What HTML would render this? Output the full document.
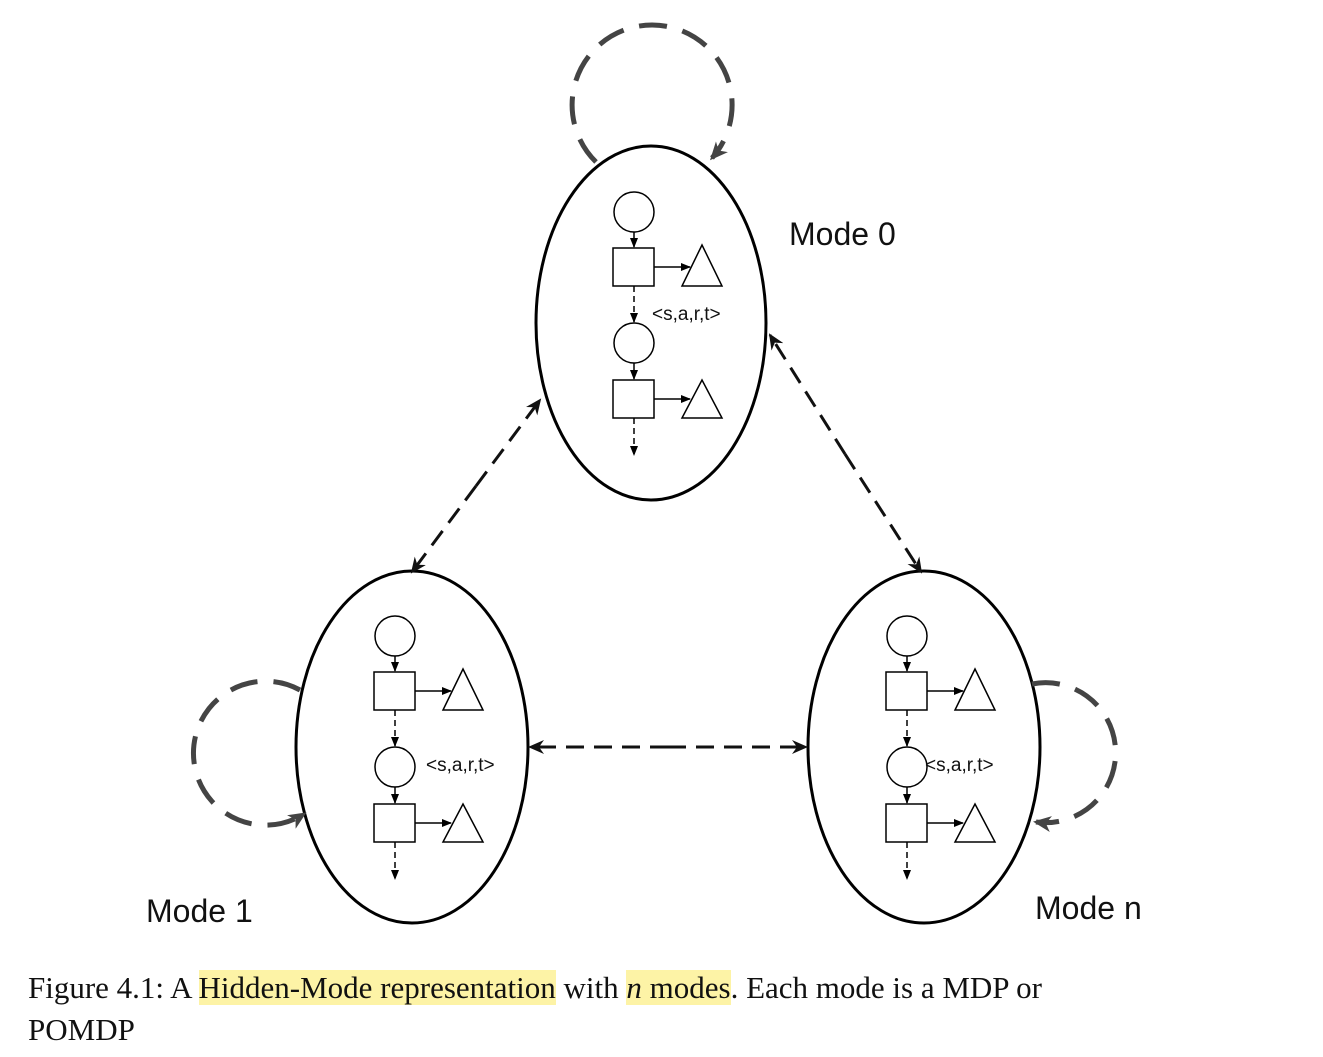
<!DOCTYPE html>
<html><head><style>
body{margin:0;background:#fff;width:1323px;height:1057px;overflow:hidden;position:relative}
.cap{position:absolute;left:28px;font-family:"Liberation Serif",serif;font-size:31px;color:#111;white-space:nowrap}
.hl{background:#fdf3a6}
</style></head><body>
<svg width="1323" height="960" style="position:absolute;left:0;top:0" font-family="Liberation Sans, sans-serif">
<defs>
<marker id="a" markerWidth="10" markerHeight="8" refX="9" refY="4" orient="auto" markerUnits="userSpaceOnUse"><path d="M0,0L10,4L0,8z" fill="#000"/></marker>
<marker id="b" markerWidth="16" markerHeight="14" refX="14" refY="7" orient="auto" markerUnits="userSpaceOnUse"><path d="M0,0L16,7L0,14L5,7z" fill="#111"/></marker>
<marker id="g" markerWidth="18" markerHeight="16" refX="15" refY="8" orient="auto" markerUnits="userSpaceOnUse"><path d="M0,0L18,8L0,16L5,8z" fill="#444"/></marker>
<g id="inner" fill="none" stroke="#000" stroke-width="1.5">
<circle cx="-17" cy="-111" r="20"/>
<rect x="-38" y="-75" width="41" height="38"/>
<path d="M51,-78L71,-37L31,-37z"/>
<line x1="-17" y1="-91" x2="-17" y2="-76" marker-end="url(#a)"/>
<line x1="3" y1="-56" x2="39" y2="-56" marker-end="url(#a)"/>
<line x1="-17" y1="-37" x2="-17" y2="-1" stroke-dasharray="6 4" marker-end="url(#a)"/>
<circle cx="-17" cy="20" r="20"/>
<rect x="-38" y="57" width="41" height="38"/>
<path d="M51,57L71,95L31,95z"/>
<line x1="-17" y1="40" x2="-17" y2="56" marker-end="url(#a)"/>
<line x1="3" y1="76" x2="39" y2="76" marker-end="url(#a)"/>
<line x1="-17" y1="95" x2="-17" y2="132" stroke-dasharray="6 4" marker-end="url(#a)"/>
</g>
</defs>
<g fill="none" stroke="#000" stroke-width="3">
<ellipse cx="651" cy="323" rx="115" ry="177"/>
<ellipse cx="412" cy="747" rx="116" ry="176"/>
<ellipse cx="924" cy="747" rx="116" ry="176"/>
</g>
<use href="#inner" x="651" y="323"/>
<use href="#inner" x="412" y="747"/>
<use href="#inner" x="924" y="747"/>
<g font-size="19" fill="#111">
<text x="652" y="320">&lt;s,a,r,t&gt;</text>
<text x="426" y="771">&lt;s,a,r,t&gt;</text>
<text x="925" y="771">&lt;s,a,r,t&gt;</text>
</g>
<g font-size="32" fill="#111">
<text x="789" y="245">Mode 0</text>
<text x="146" y="922">Mode 1</text>
<text x="1035" y="919">Mode n</text>
</g>
<g fill="none" stroke="#444" stroke-width="5" stroke-dasharray="28 16">
<path d="M596,162 A80,80 0 1 1 712,158" marker-end="url(#g)"/>
<path d="M300,690 A72,72 0 1 0 304,814" marker-end="url(#g)"/>
<path d="M1032,684 A70,70 0 1 1 1036,822" marker-end="url(#g)"/>
</g>
<g fill="none" stroke="#111" stroke-width="3" stroke-dasharray="18 10">
<line x1="476" y1="486" x2="540" y2="400" marker-end="url(#b)"/>
<line x1="476" y1="486" x2="412" y2="572" marker-end="url(#b)"/>
<line x1="845" y1="454" x2="770" y2="335" marker-end="url(#b)"/>
<line x1="845" y1="454" x2="921" y2="572" marker-end="url(#b)"/>
<line x1="668" y1="747" x2="530" y2="747" marker-end="url(#b)"/>
<line x1="668" y1="747" x2="806" y2="747" marker-end="url(#b)"/>
</g>
</svg>
<div class="cap" style="top:970px">Figure 4.1: A <span class="hl">Hidden-Mode representation</span> with <span class="hl"><i>n</i> modes</span>. Each mode is a MDP or</div>
<div class="cap" style="top:1012px">POMDP</div>
</body></html>
